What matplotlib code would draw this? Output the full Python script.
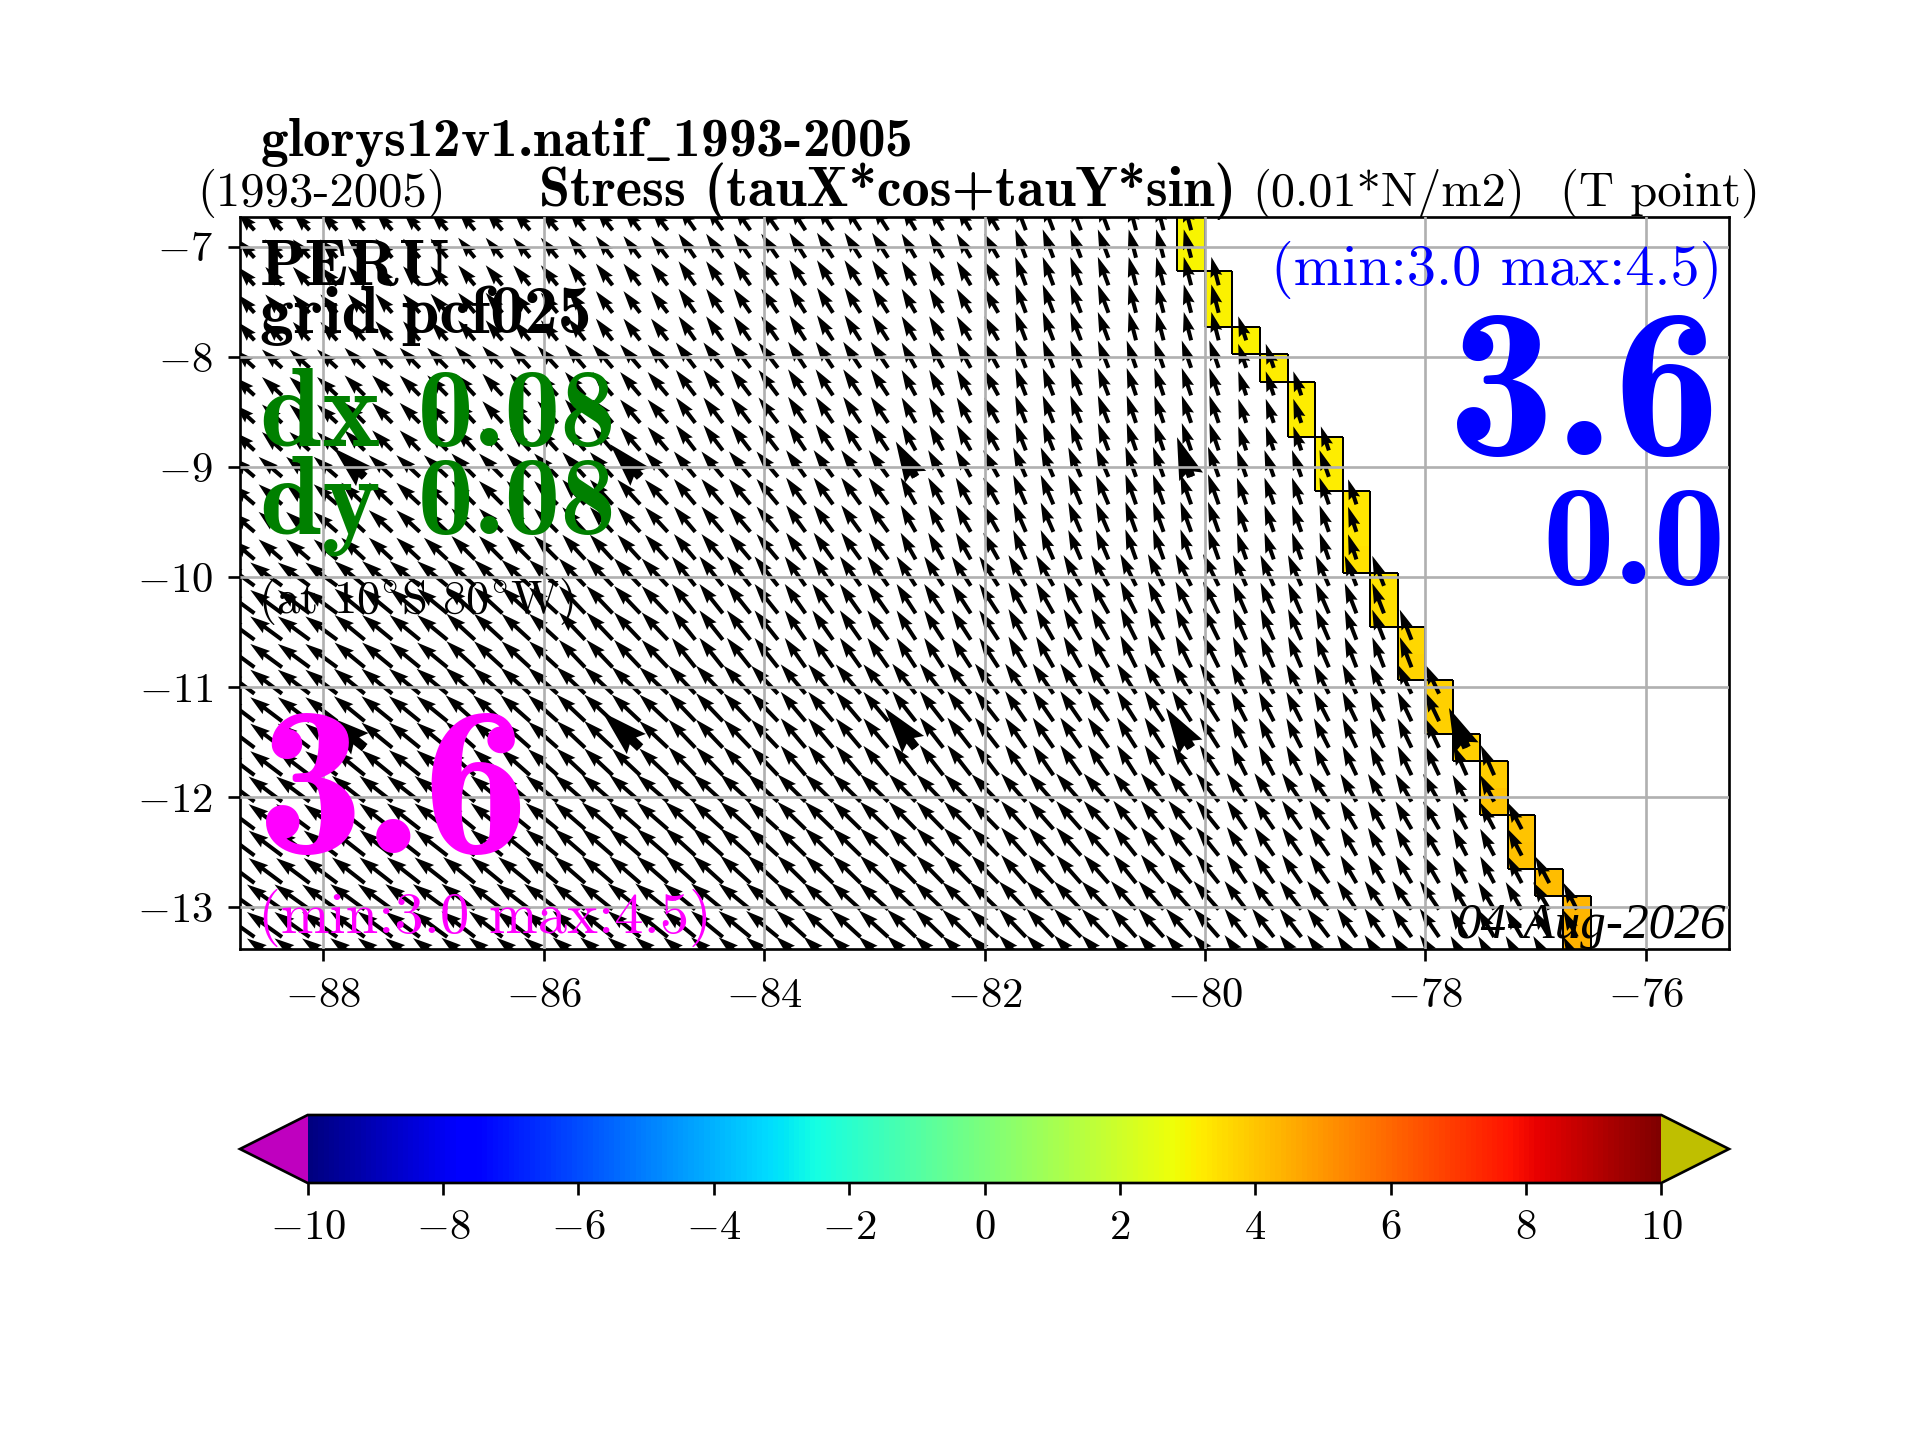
import numpy as np
import matplotlib
matplotlib.use("Agg")
import matplotlib.pyplot as plt
from matplotlib.collections import LineCollection

plt.rcParams['font.family'] = ['cmr10', 'DejaVu Sans']
plt.rcParams['mathtext.fontset'] = 'cm'
plt.rcParams['axes.formatter.use_mathtext'] = True
plt.rcParams['axes.unicode_minus'] = True

# grid of T points
LATS = [-6.85, -7.10, -7.35, -7.60, -7.85, -8.10, -8.35, -8.60, -8.85, -9.09,
        -9.34, -9.59, -9.84, -10.08, -10.33, -10.57, -10.82, -11.06, -11.31,
        -11.55, -11.80, -12.04, -12.29, -12.53, -12.78, -13.02, -13.27, -13.51]
LONS = np.arange(-88.625, -76.5, 0.25)

# stress components, 7 latitude bands x 13 one-degree longitude blocks
BAND_ROWS = [5, 4, 4, 4, 4, 4, 3]
BLOCK_COLS = 4
TAU_U = [
    [-2.00, -2.00, -2.00, -2.00, -2.00, -1.92, -1.68, -1.28, -0.88, -0.96, -0.88, -0.88, -0.88],
    [-2.40, -2.40, -2.40, -2.40, -2.32, -2.08, -1.68, -1.28, -1.12, -0.96, -0.88, -0.88, -0.88],
    [-2.80, -2.80, -2.80, -2.72, -2.56, -2.32, -1.80, -1.52, -1.28, -1.12, -1.00, -1.00, -1.00],
    [-3.80, -3.60, -3.40, -3.12, -2.80, -2.48, -2.28, -2.08, -1.88, -1.60, -1.40, -1.32, -1.32],
    [-3.80, -3.68, -3.52, -3.40, -3.20, -2.96, -2.80, -2.48, -2.28, -1.80, -1.68, -1.60, -1.52],
    [-4.00, -3.92, -3.80, -3.68, -3.60, -3.36, -3.20, -2.96, -2.72, -2.32, -1.92, -1.68, -1.60],
    [-4.20, -4.12, -4.00, -3.88, -3.80, -3.52, -3.40, -3.20, -3.00, -2.60, -2.32, -1.92, -1.60],
]
TAU_V = [
    [2.20, 2.28, 2.40, 2.60, 2.88, 3.00, 2.88, 3.40, 3.40, 2.88, 2.72, 2.72, 2.72],
    [2.20, 2.40, 2.60, 2.80, 3.04, 3.12, 3.04, 3.28, 3.28, 2.88, 2.72, 2.72, 2.72],
    [2.40, 2.60, 2.80, 2.96, 3.04, 3.20, 3.20, 3.52, 3.60, 3.20, 3.00, 3.00, 3.00],
    [2.80, 2.96, 3.12, 3.28, 3.52, 3.52, 3.52, 3.68, 3.80, 3.68, 3.60, 3.40, 3.40],
    [2.88, 3.00, 3.12, 3.20, 3.36, 3.52, 3.60, 3.60, 3.60, 3.52, 3.52, 3.60, 3.52],
    [3.00, 3.08, 3.12, 3.20, 3.28, 3.28, 3.28, 3.36, 3.40, 3.40, 3.32, 3.20, 3.20],
    [3.00, 3.04, 3.08, 3.12, 3.12, 3.20, 3.28, 3.36, 3.40, 3.40, 3.40, 3.28, 3.20],
]

# easternmost ocean column and the coloured coastal cell of each row
COAST_LON = [-80.125, -80.125, -79.875, -79.875, -79.625, -79.375, -79.125, -79.125,
             -78.875, -78.875, -78.625, -78.625, -78.625, -78.375, -78.375, -78.125,
             -78.125, -77.875, -77.875, -77.625, -77.375, -77.375, -77.125, -77.125,
             -76.875, -76.625, -76.625, -76.625]
COAST_VAL = [3.0, 3.0, 3.1, 3.1, 3.1, 3.2, 3.2, 3.2, 3.2, 3.2, 3.3, 3.3, 3.4, 3.4,
             3.5, 3.6, 3.7, 3.8, 3.8, 3.8, 3.9, 4.0, 4.0, 4.1, 4.2, 4.3, 4.4, 4.5]

# sparser overlay arrows
BIG_ROWS = [9, 19]
BIG_COLS = [4, 14, 24, 34, 44]

XTICKS = [-88, -86, -84, -82, -80, -78, -76]
YTICKS = [-13, -12, -11, -10, -9, -8, -7]
CBAR_TICKS = [-10, -8, -6, -4, -2, 0, 2, 4, 6, 8, 10]

W, H = 1920, 1440
fig = plt.figure(figsize=(8, 6), dpi=240)
ax = fig.add_axes([240 / W, 1 - 949 / H, (1729 - 240) / W, (949 - 217) / H])

lats = np.array(LATS)
lons = np.asarray(LONS)
nr, nc = lats.size, lons.size
U = np.repeat(np.repeat(np.array(TAU_U), BAND_ROWS, axis=0), BLOCK_COLS, axis=1)[:, :nc]
V = np.repeat(np.repeat(np.array(TAU_V), BAND_ROWS, axis=0), BLOCK_COLS, axis=1)[:, :nc]
LO, LA = np.meshgrid(lons, lats)
coast = np.array(COAST_LON)
land = LO > coast[:, None] + 1e-6

# cell edges
lat_edges = np.concatenate(([lats[0] + 0.125], 0.5 * (lats[:-1] + lats[1:]), [lats[-1] - 0.125]))
lon_edges = np.concatenate((lons - 0.125, [lons[-1] + 0.125]))
C = np.full((nr, nc), np.nan)
for i in range(nr):
    C[i, np.argmin(np.abs(lons - coast[i]))] = COAST_VAL[i]
cmap = plt.get_cmap('jet').with_extremes(under=(0.75, 0, 0.75), over=(0.75, 0.75, 0))
mesh = ax.pcolormesh(lon_edges, lat_edges, np.ma.masked_invalid(C), cmap=cmap, vmin=-10, vmax=10, zorder=1)

segs = []
for i in range(nr):
    x0, x1 = coast[i] - 0.125, coast[i] + 0.125
    y0, y1 = lat_edges[i], lat_edges[i + 1]
    segs += [[(x0, y0), (x0, y1)], [(x1, y0), (x1, y1)]]
    if i == 0 or coast[i - 1] != coast[i]:
        segs.append([(x0, y0), (x1, y0)])
    if i == nr - 1 or coast[i + 1] != coast[i]:
        segs.append([(x0, y1), (x1, y1)])
ax.add_collection(LineCollection(segs, colors='k', linewidths=0.6, zorder=1.5))

SCALE = 13.2
ax.quiver(LO, LA, np.ma.array(U, mask=land), np.ma.array(V, mask=land),
          angles='xy', scale_units='xy', scale=SCALE, color='k', width=0.0027, zorder=2)
bi, bj = np.meshgrid(BIG_ROWS, BIG_COLS, indexing='ij')
bi, bj = bi.ravel(), bj.ravel()
keep = ~land[bi, bj]
ax.quiver(LO[bi, bj][keep], LA[bi, bj][keep], U[bi, bj][keep], V[bi, bj][keep],
          angles='xy', scale_units='xy', scale=10.0, color='k', width=0.0062, zorder=2)

ax.set_xlim(-88.756, -75.244)
ax.set_ylim(-13.379, -6.730)
ax.set_xticks(XTICKS)
ax.set_yticks(YTICKS)
ax.tick_params(axis='x', labelsize=12.8, pad=5)
ax.tick_params(axis='y', labelsize=12.8, pad=4.6)
ax.grid(True, zorder=3)
ax.set_axisbelow(False)

cax = fig.add_axes([240 / W, 1 - 1183 / H, (1729 - 240) / W, (1183 - 1115) / H])
cb = fig.colorbar(mesh, cax=cax, orientation='horizontal', extend='both', ticks=CBAR_TICKS)
cb.ax.tick_params(labelsize=12.8, pad=4.6)


def label(x, y, s, size, color='k', ha='left', bold=False):
    fig.text(x / W, 1 - y / H, s, fontsize=size, color=color, ha=ha, va='baseline',
             family=['cmb10', 'DejaVu Sans'] if bold else ['cmr10', 'DejaVu Sans'], zorder=10)


label(260, 156, r'glorys12v1.natif$\_$1993-2005', 16.6, bold=True)
label(197, 206, '(1993-2005)', 14.6)
label(539, 206, 'Stress (tauX*cos+tauY*sin)', 16.8, bold=True)
label(1252, 206, '(0.01*N/m2)', 14.5)
label(1560, 206, '(T point)', 14.6)
label(260, 285, 'PERU', 20, bold=True)
label(260, 333, 'grid pcf025', 20.3, bold=True)
label(260, 446, 'dx 0.08', 33.4, 'green', bold=True)
label(260, 534, 'dy 0.08', 33.4, 'green', bold=True)
label(258, 613, r'(at 10$^{\circ}$S 80$^{\circ}$W)', 14)
label(257, 853, '3.6', 64, 'magenta', bold=True)
label(258, 933, '(min:3.0 max:4.5)', 17.6, 'magenta')
label(1722, 285, '(min:3.0 max:4.5)', 17.5, 'blue', ha='right')
label(1720, 455, '3.6', 64, 'blue', ha='right', bold=True)
label(1726, 584, '0.0', 43, 'blue', ha='right', bold=True)
fig.text(1726 / W, 1 - 938 / H, '04-Aug-2026', fontsize=15.4, ha='right', va='baseline',
         family='Liberation Serif', style='italic', zorder=10)

fig.savefig('out.png', dpi=240)
